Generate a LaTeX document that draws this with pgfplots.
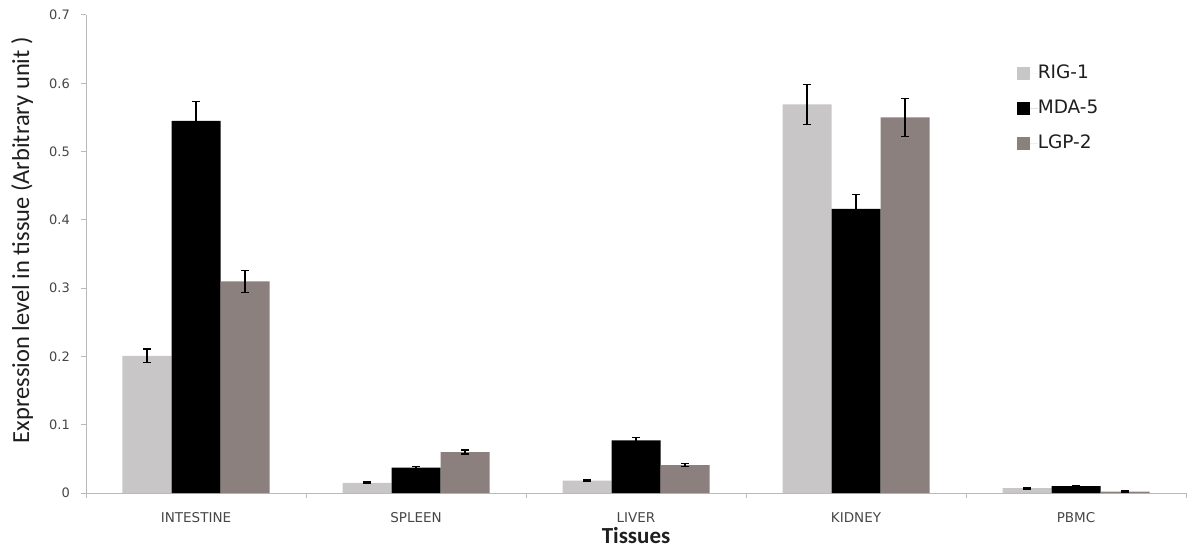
\documentclass[border=0pt]{standalone}
\usepackage{pgfplots}
\pgfplotsset{compat=1.18}
\usepackage{pgfplotstable}
\usepackage{fontspec}
\setmainfont{Carlito}
\newfontfamily\dejavu{DejaVu Sans}
\definecolor{rig}{RGB}{200,198,198}
\definecolor{lgp}{RGB}{140,128,127}
\definecolor{axgray}{RGB}{185,185,185}
\definecolor{txtgray}{RGB}{70,70,70}
\definecolor{legtxt}{RGB}{30,30,30}
\pgfplotstableread{
x rig rige mda mdae lgp lgpe
0 0.201 0.010 0.545 0.028 0.310 0.016
1 0.015 0.001 0.037 0.002 0.060 0.003
2 0.018 0.001 0.077 0.004 0.041 0.002
3 0.569 0.029 0.416 0.021 0.550 0.028
4 0.007 0.001 0.010 0.001 0.002 0.001
}\datatable
\pgfplotsset{
  mylegend/.style={legend image code/.code={\fill[##1,draw=none] (0pt,-6.5pt) rectangle (13pt,6.5pt); \path (0pt,0pt) -- (21pt,0pt);}},
  myerr/.style={error bars/.cd, y dir=both, y explicit,
    error bar style={draw=black, line width=1.2pt},
    error mark options={rotate=90, draw=black, line width=1.2pt, mark size=4pt}}
}
\begin{document}
\begin{tikzpicture}
\begin{axis}[
  scale only axis, width=1100pt, height=478pt,
  xmin=-0.5, xmax=4.5, ymin=0, ymax=0.7,
  ybar=0pt, bar width=49pt,
  axis x line*=bottom, axis y line*=left,
  axis line style={axgray, line width=1pt, -},
  xtick={0,...,4},
  xticklabels={INTESTINE,SPLEEN,LIVER,KIDNEY,PBMC},
  minor xtick={-0.5,0.5,...,4.5},
  major x tick style={draw=none},
  ytick={0,0.1,...,0.7},
  tick align=outside,
  major tick length=5pt, minor tick length=5pt,
  tick style={axgray, line width=1pt},
  /pgf/number format/.cd, fixed, precision=1, assume math mode=true, /pgfplots/.cd,
  yticklabel style={font=\dejavu\fontsize{13}{15}\selectfont, text=txtgray, anchor=east, inner sep=0pt, xshift=-11pt},
  xticklabel style={font=\dejavu\fontsize{13.5}{15}\selectfont, text=txtgray, anchor=center, yshift=-20pt},
  xlabel={Tissues},
  xlabel style={font=\fontsize{23}{27}\selectfont\bfseries, text=legtxt, at={(axis description cs:0.5,-0.089)}, anchor=center},
  ylabel={Expression level in tissue (Arbitrary unit )},
  ylabel style={font=\fontsize{24.5}{28}\selectfont, text=legtxt, at={(axis description cs:-0.058,0.529)}, anchor=center},
  legend style={at={(0.846,0.895)}, anchor=north west, draw=none, fill=none, inner sep=0pt,
    font=\dejavu\fontsize{18.5}{21}\selectfont, text=legtxt, row sep=18pt,
    nodes={inner sep=0pt, text height=13pt, text depth=4pt}},
  legend cell align=left,
]
\addplot[fill=rig, draw=none, mylegend, myerr] table[x=x, y=rig, y error=rige]{\datatable};
\addplot[fill=black, draw=none, mylegend, myerr] table[x=x, y=mda, y error=mdae]{\datatable};
\addplot[fill=lgp, draw=none, mylegend, myerr] table[x=x, y=lgp, y error=lgpe]{\datatable};
\legend{RIG-1,MDA-5,LGP-2}
\end{axis}
\pgfresetboundingbox
\path[use as bounding box] ([xshift=-86pt,yshift=-55pt]current axis.south west) rectangle ([xshift=1pt,yshift=15pt]current axis.north east);
\end{tikzpicture}
\end{document}
